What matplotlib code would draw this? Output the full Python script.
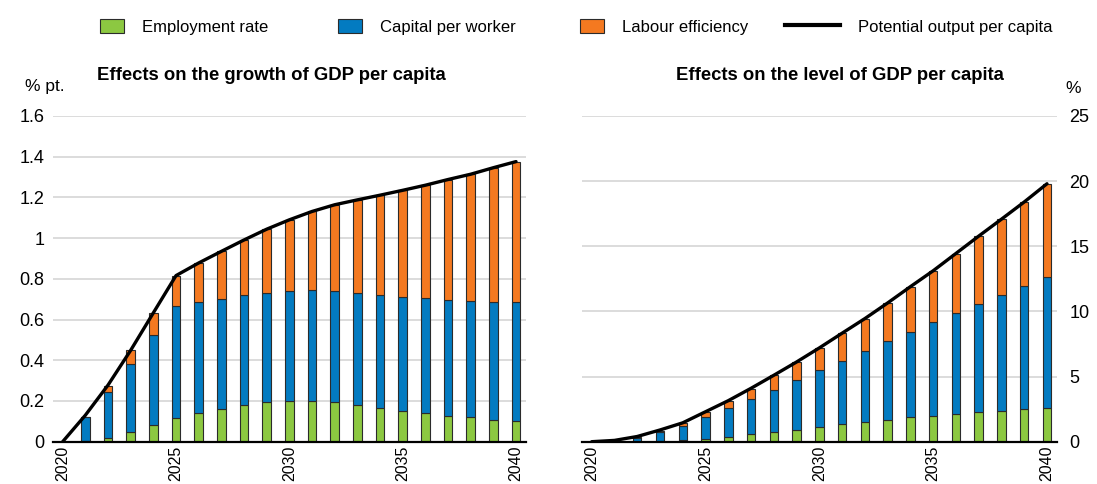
import matplotlib as mpl
mpl.use("Agg")
import matplotlib.pyplot as plt
from matplotlib.patches import Patch
from matplotlib.lines import Line2D
import numpy as np

plt.rcParams['font.family'] = ['Liberation Sans', 'DejaVu Sans']

years = list(range(2020, 2041))

# growth of GDP per capita, % pt.
growth_employment = [0, 0.003, 0.016, 0.046, 0.082, 0.114, 0.139, 0.162, 0.181, 0.193, 0.201,
                     0.201, 0.193, 0.181, 0.168, 0.152, 0.139, 0.127, 0.119, 0.108, 0.100]
growth_capital = [0, 0.116, 0.229, 0.336, 0.442, 0.553, 0.546, 0.540, 0.539, 0.538, 0.540,
                  0.543, 0.545, 0.550, 0.555, 0.561, 0.566, 0.570, 0.573, 0.579, 0.584]
growth_labour = [0, 0, 0.031, 0.067, 0.109, 0.149, 0.193, 0.233, 0.271, 0.313, 0.349,
                 0.387, 0.426, 0.457, 0.488, 0.522, 0.555, 0.591, 0.622, 0.659, 0.692]
growth_potential = [0, 0.13, 0.278, 0.449, 0.633, 0.816, 0.878, 0.935, 0.991, 1.044, 1.090,
                    1.131, 1.164, 1.188, 1.211, 1.235, 1.260, 1.288, 1.314, 1.346, 1.376]

# level of GDP per capita, %
level_employment = [0, 0, 0, 0.02, 0.1, 0.23, 0.36, 0.56, 0.71, 0.92, 1.09,
                    1.35, 1.50, 1.70, 1.86, 2.01, 2.16, 2.29, 2.39, 2.52, 2.62]
level_capital = [0, 0.05, 0.3, 0.74, 1.12, 1.68, 2.24, 2.75, 3.26, 3.84, 4.38,
                 4.86, 5.47, 6.01, 6.56, 7.15, 7.69, 8.27, 8.86, 9.44, 10.0]
level_labour = [0, 0.01, 0.05, 0.09, 0.18, 0.38, 0.53, 0.76, 1.12, 1.35, 1.71,
                2.11, 2.47, 2.93, 3.46, 3.94, 4.58, 5.20, 5.81, 6.43, 7.18]
level_potential = [0, 0.1, 0.4, 0.9, 1.45, 2.3, 3.15, 4.1, 5.1, 6.12, 7.2,
                   8.33, 9.45, 10.65, 11.9, 13.12, 14.45, 15.78, 17.08, 18.4, 19.8]

labels = ["Employment rate", "Capital per worker", "Labour efficiency", "Potential output per capita"]
green, blue, orange = "#8CC841", "#037BC1", "#F47920"
edge = "#2b2b2b"
grid_c = "#D9D9D9"

W, H = 1097, 484
fig = plt.figure(figsize=(W / 100, H / 100), dpi=100)


def px_axes(x0, x1, y0, y1):
    return fig.add_axes([x0 / W, 1 - y1 / H, (x1 - x0) / W, (y1 - y0) / H])


def draw(ax, emp, cap, lab, pot, ymax, ystep):
    emp, cap, lab = np.array(emp), np.array(cap), np.array(lab)
    w = 0.37
    ax.bar(years, emp, w, color=green, edgecolor=edge, linewidth=0.8, zorder=2)
    ax.bar(years, cap, w, bottom=emp, color=blue, edgecolor=edge, linewidth=0.8, zorder=2)
    ax.bar(years, lab, w, bottom=emp + cap, color=orange, edgecolor=edge, linewidth=0.8, zorder=2)
    ax.plot(years, pot, color="black", linewidth=2.4, zorder=3, solid_capstyle="round")
    ax.set_xlim(2019.56, 2040.44)
    ax.set_ylim(0, ymax)
    ticks = np.arange(0, ymax + ystep / 2, ystep)
    ax.set_yticks(ticks)
    ax.set_yticklabels(["%g" % round(t, 2) for t in ticks])
    ax.set_xticks([2020, 2025, 2030, 2035, 2040])
    ax.set_xticklabels(["2020", "2025", "2030", "2035", "2040"], rotation=90)
    ax.grid(axis="y", color=grid_c, linewidth=1.3, zorder=0)
    for s in ["top", "left", "right"]:
        ax.spines[s].set_visible(False)
    ax.spines["bottom"].set_linewidth(1.6)
    ax.spines["bottom"].set_zorder(4)
    ax.tick_params(axis="y", length=0, labelsize=13)
    ax.tick_params(axis="x", length=0, labelsize=11.5, pad=3)


ax1 = px_axes(52.7, 526, 116, 441.7)
draw(ax1, growth_employment, growth_capital, growth_labour, growth_potential, 1.6, 0.2)
ax1.tick_params(axis="y", pad=6)
ax1.set_title("Effects on the growth of GDP per capita", fontsize=13.3, fontweight="bold",
              x=0.463, pad=26)
fig.text(25 / W, 1 - 86 / H, "% pt.", fontsize=12.5, va="center", ha="left")

ax2 = px_axes(581.7, 1057, 116, 441.7)
draw(ax2, level_employment, level_capital, level_labour, level_potential, 25, 5)
ax2.yaxis.tick_right()
ax2.tick_params(axis="y", pad=9)
ax2.set_title("Effects on the level of GDP per capita", fontsize=13.3, fontweight="bold",
              x=0.5435, pad=26)
fig.text(1065 / W, 1 - 88 / H, "%", fontsize=12.5, va="center", ha="left")

# legend, one entry each
handles = [Patch(facecolor=green, edgecolor=edge, linewidth=0.8),
           Patch(facecolor=blue, edgecolor=edge, linewidth=0.8),
           Patch(facecolor=orange, edgecolor=edge, linewidth=0.8),
           Line2D([], [], color="black", linewidth=3)]
xpos = [100, 338, 580, 785]
hlen = [1.45, 1.45, 1.45, 3.3]
for h, lbl, x, hl in zip(handles, labels, xpos, hlen):
    fig.legend([h], [lbl], loc="center left", bbox_to_anchor=(x / W, 1 - 27 / H),
               frameon=False, fontsize=12, handlelength=hl, handleheight=0.9,
               handletextpad=1.1, borderpad=0, borderaxespad=0)

fig.savefig("out.png", dpi=100)
